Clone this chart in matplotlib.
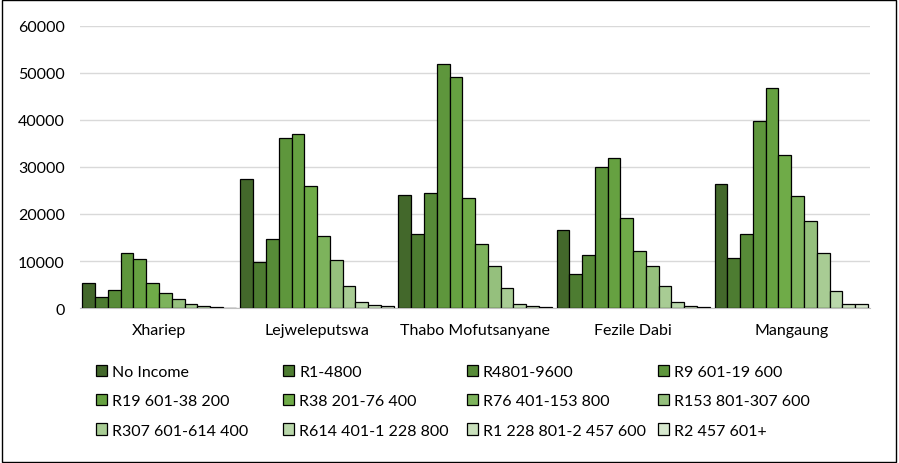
import numpy as np
import matplotlib.pyplot as plt
from matplotlib.patches import Rectangle

plt.rcParams['font.family'] = ['Lato', 'DejaVu Sans']

districts = ["Xhariep", "Lejweleputswa", "Thabo Mofutsanyane", "Fezile Dabi", "Mangaung"]
income_bands = ["No Income", "R1-4800", "R4801-9600", "R9 601-19 600",
                "R19 601-38 200", "R38 201-76 400", "R76 401-153 800", "R153 801-307 600",
                "R307 601-614 400", "R614 401-1 228 800", "R1 228 801-2 457 600", "R2 457 601+"]

# households per income band, one list per district
xhariep = [5250, 2400, 3800, 11600, 10400, 5400, 3300, 1900, 850, 350, 200, 100]
lejweleputswa = [27450, 9800, 14600, 36200, 36950, 25950, 15400, 10200, 4750, 1200, 570, 360]
thabo = [24050, 15800, 24550, 51900, 49100, 23300, 13550, 8950, 4200, 850, 430, 300]
fezile = [16650, 7300, 11300, 29950, 31950, 19100, 12150, 8950, 4700, 1300, 470, 260]
mangaung = [26300, 10700, 15800, 39700, 46750, 32650, 23900, 18600, 11700, 3700, 950, 800]

colors = ["#43682b", "#4d7c31", "#578b38", "#5e963c", "#66a141", "#6fab48",
          "#7db35c", "#95c07d", "#a8cc94", "#b9d7aa", "#c9e0bc", "#d7e8ce"]

values = np.array([xhariep, lejweleputswa, thabo, fezile, mangaung])

fig = plt.figure(figsize=(8.99, 4.64), dpi=100)
ax = fig.add_axes([0.089, 0.334, 0.879, 0.608])

x = np.arange(len(districts))
group = 0.97
w = group / len(income_bands)
handles = []
for i, band in enumerate(income_bands):
    b = ax.bar(x - group / 2 + w * (i + 0.5), values[:, i], width=w,
               color=colors[i], edgecolor="black", linewidth=0.9, label=band, zorder=3)
    handles.append(b)

ax.set_xlim(-0.5, len(districts) - 0.5)
ax.set_ylim(0, 60000)
ax.set_yticks(range(0, 60001, 10000))
ax.set_xticks(x)
ax.set_xticklabels(districts)
ax.yaxis.grid(True, color="#d9d9d9", linewidth=1, zorder=0)
ax.tick_params(length=0, labelsize=11.5, colors="#000000")
ax.tick_params(axis="y", pad=11)
ax.tick_params(axis="x", pad=11)
for side in ["top", "right", "left"]:
    ax.spines[side].set_visible(False)
ax.spines["bottom"].set_color("#bfbfbf")

# legend laid out row by row in four evenly spaced columns
col_x = [0.107, 0.315, 0.519, 0.732]
for c in range(4):
    idx = [c, c + 4, c + 8]
    fig.legend([handles[i] for i in idx], [income_bands[i] for i in idx],
               loc="upper left", bbox_to_anchor=(col_x[c], 0.212), frameon=False,
               fontsize=11.5, handlelength=0.7, handleheight=0.7, handletextpad=0.3,
               labelspacing=0.95, borderpad=0, borderaxespad=0)

fig.patches.append(Rectangle((0.002, 0.003), 0.995, 0.994, transform=fig.transFigure,
                             fill=False, edgecolor="black", linewidth=1))

fig.savefig("out.png", dpi=100)
